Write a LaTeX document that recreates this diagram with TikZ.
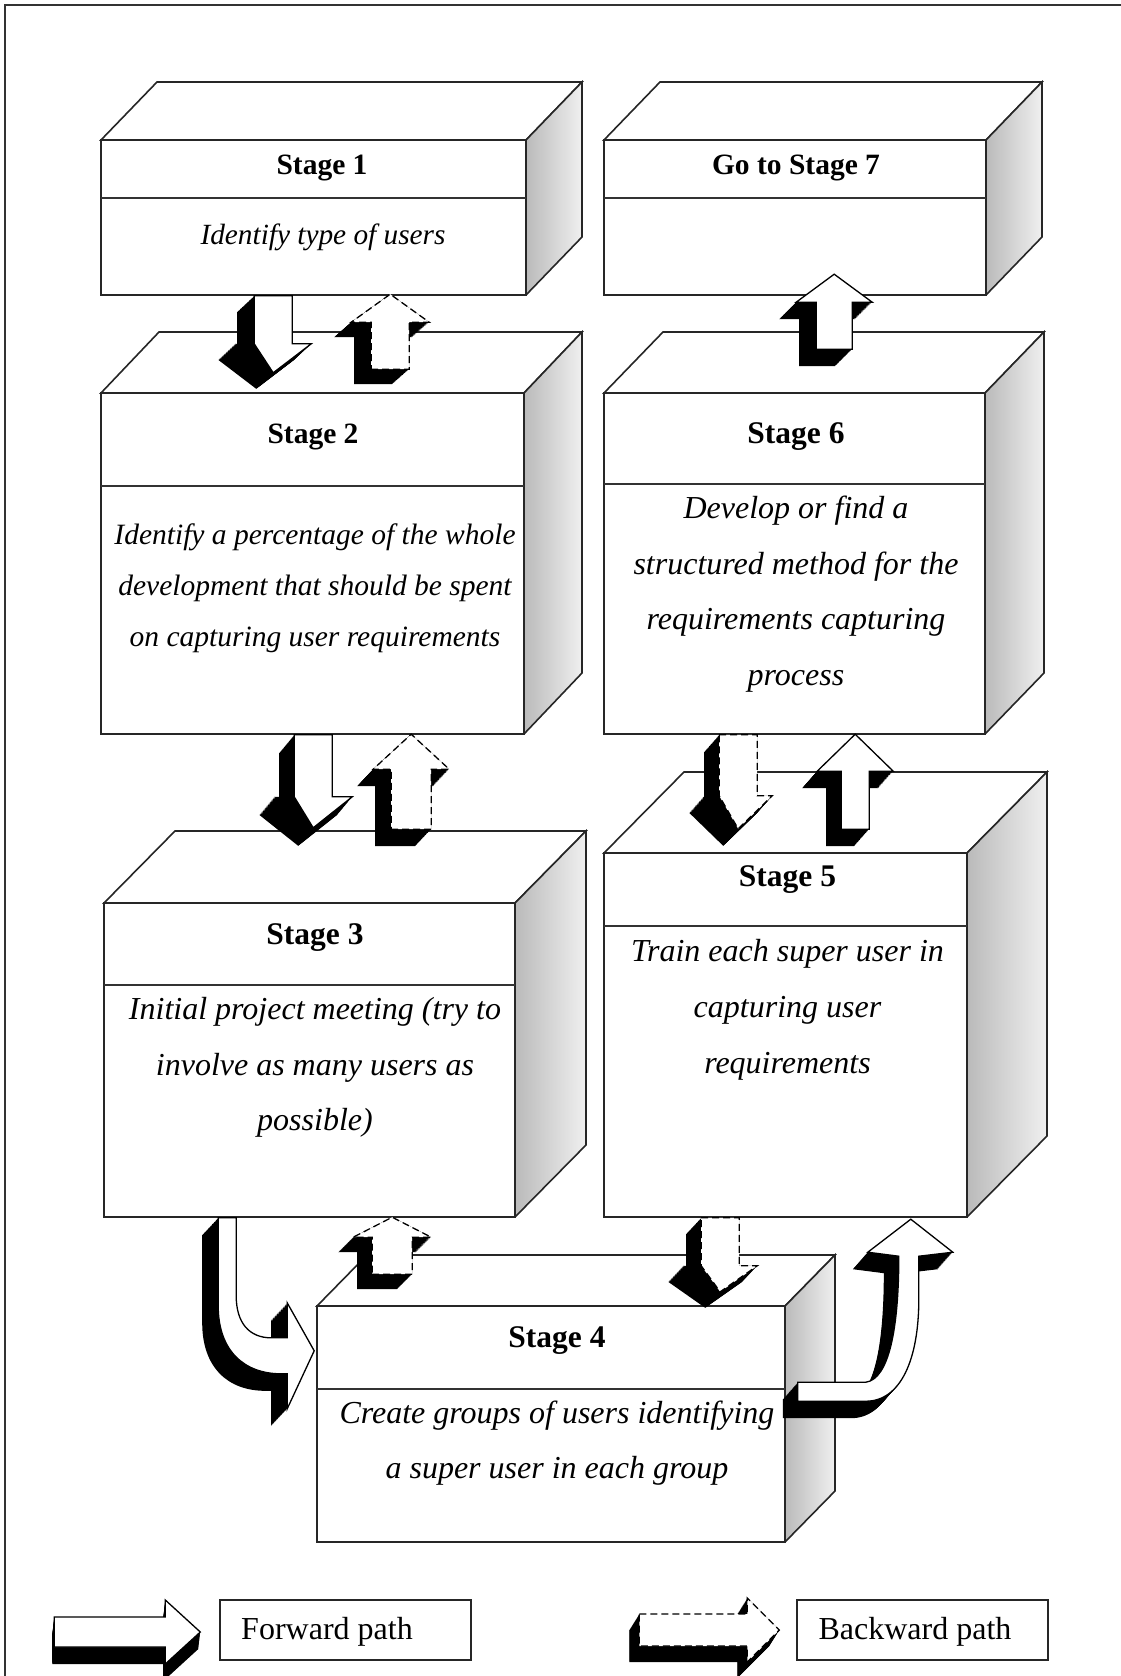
\documentclass[tikz,border=0pt]{standalone}
\usepackage{fontspec}
\setmainfont{Liberation Serif}
\usetikzlibrary{calc,fit}

% black side of a block arrow: the outline swept along (#1,#2)
\newcommand\extrude[3]{%
  \foreach \k in {0,1,...,24}{%
    \fill[black, shift={(\k*#1/24,\k*#2/24)}] #3;%
  }%
}

% a stage drawn as a box: name, x1, y1, x2, y2, depth x, depth y, divider y
\newcommand\stagebox[8]{%
  \filldraw[boxline, fill=white] (#2,#3) -- ++(#6,#7) -- ++(#4-#2,0) -- (#4,#3) -- cycle;
  \shade[sidefill] (#4,#3) -- ++(#6,#7) -- ++(0,#5-#3) -- (#4,#5) -- cycle;
  \draw[boxline] (#4,#3) -- ++(#6,#7) -- ++(0,#5-#3) -- (#4,#5);
  \coordinate (#1-a) at (#2,#3);
  \coordinate (#1-b) at (#4,#5);
  \node[boxline, fill=white, fit=(#1-a)(#1-b), inner sep=0pt] (#1) {};
  \draw[divline] (#2,#8) -- (#4,#8);
}

\tikzset{
  boxline/.style={draw=black!85, line width=1.6pt, line join=miter},
  divline/.style={draw=black!80, line width=1.3pt},
  frameline/.style={draw=black!80, line width=1.6pt},
  sidefill/.style={left color=black!27, right color=black!6},
  stagetitle/.style={font=\fontsize{#1}{#1}\selectfont\bfseries, inner sep=0pt},
  stagetitle/.default=31.5,
  stagebody/.style 2 args={font=\fontsize{#1}{#2}\selectfont\itshape, align=center, inner sep=0pt},
  fwd/.style={draw=black, line width=1.3pt, fill=white, line join=miter},
  bwd/.style={draw=black, line width=1.3pt, fill=white, line join=miter, dash pattern=on 7pt off 4pt},
  legendbox/.style={draw=black!85, line width=1.4pt, fill=white, inner sep=0pt},
  legendtext/.style={font=\fontsize{32}{32}\selectfont, inner sep=0pt},
  % shaft half width, shaft length, head half width, head length, sweep x, sweep y
  pics/downarrow/.style n args={7}{code={
    \extrude{#6}{#7}{(-#2,0) -- (#2,0) -- (#2,#3) -- (#4,#3) -- (0,#3+#5) -- (-#4,#3) -- (-#2,#3) -- cycle}
    \path[#1] (-#2,0) -- (#2,0) -- (#2,#3) -- (#4,#3) -- (0,#3+#5) -- (-#2,#3) -- cycle;
  }},
  pics/uparrow/.style n args={7}{code={
    \extrude{#6}{#7}{(-#2,0) -- (#2,0) -- (#2,-#3) -- (#4,-#3) -- (0,-#3-#5) -- (-#4,-#3) -- (-#2,-#3) -- cycle}
    \path[#1] (-#2,0) -- (#2,0) -- (#2,-#3) -- (#4,-#3) -- (0,-#3-#5) -- (-#4,-#3) -- (-#2,-#3) -- cycle;
  }},
  pics/rightarrow/.style n args={7}{code={
    \extrude{#6}{#7}{(0,-#2) -- (#3,-#2) -- (#3,-#4) -- (#3+#5,0) -- (#3,#4) -- (#3,#2) -- (0,#2) -- cycle}
    \path[#1] (0,-#2) -- (#3,-#2) -- (#3,-#4) -- (#3+#5,0) -- (#3,#4) -- (#3,#2) -- (0,#2) -- cycle;
  }},
}

\begin{document}
\begin{tikzpicture}[x=1pt,y=-1pt]
\useasboundingbox (0,0) rectangle (1121,1676);
\fill[white] (0,0) rectangle (1121,1676);
\draw[frameline] (5,1676) -- (5,5) -- (1121,5);

% stages
\stagebox{s1}{101}{140}{526}{295}{56}{-58}{198}
\stagebox{s7}{604}{140}{986}{295}{56}{-58}{198}
\stagebox{s2}{101}{393}{524}{734}{58}{-61}{486}
\stagebox{s6}{604}{393}{985}{734}{59}{-61}{484}
\stagebox{s3}{104}{903}{515}{1217}{71}{-72}{985}
\stagebox{s5}{604}{853}{967}{1217}{80}{-81}{926}
\stagebox{s4}{317}{1306}{785}{1542}{50}{-51}{1389}

% stage texts
\node[stagetitle=29.5] (t1) at (322,168) {Stage 1};
\node[stagebody={29.3}{30}] (b1) at (323,237) {Identify type of users};
\node[stagetitle=29.5] (t7) at (796,168) {Go to Stage 7};
\node[stagetitle=29.5] (t2) at (313,437) {Stage 2};
\node[stagebody={29.5}{51}] (b2) at (315,588) {Identify a percentage of the whole\\development that should be spent\\on capturing user requirements};
\node[stagetitle] (t6) at (796,437) {Stage 6};
\node[stagebody={32}{55.5}] (b6) at (796,594) {Develop or find a\\structured method for the\\requirements capturing\\process};
\node[stagetitle] (t3) at (315,938) {Stage 3};
\node[stagebody={32}{55.5}] (b3) at (315,1067.5) {Initial project meeting (try to\\involve as many users as\\possible)};
\node[stagetitle] (t5) at (787.5,879.5) {Stage 5};
\node[stagebody={32}{56}] (b5) at (787.5,1009.5) {Train each super user in\\capturing user\\requirements};
\node[stagetitle] (t4) at (557,1341) {Stage 4};
\node[stagebody={32}{55}] (b4) at (557,1443.5) {Create groups of users identifying\\a super user in each group};

% forward (solid) and backward (dashed) block arrows between stages
\pic at ($(s1.south west)+(173,0)$) {downarrow={fwd}{19}{48}{38}{29}{-17}{16}};
\pic at ($(s2.north west)+(290,-23)$) {uparrow={bwd}{19}{47}{39}{28}{-17}{15}};
\pic at ($(s2.south west)+(213,0)$) {downarrow={fwd}{19}{62}{39}{31}{-15}{18}};
\pic at ($(s3.north west)+(308,-73)$) {uparrow={bwd}{20}{60}{38}{35}{-16}{17}};
\pic at ($(s6.south west)+(135,0)$) {downarrow={bwd}{19}{61}{34}{33}{-15}{17}};
\pic at ($(s5.north west)+(252,-23)$) {uparrow={fwd}{14}{58}{38}{37}{-15}{17}};
\pic at ($(s6.north west)+(231,-43)$) {uparrow={fwd}{18}{47}{38}{28}{-17}{17}};
\pic at ($(s4.north west)+(76,-31)$) {uparrow={bwd}{20}{37}{39}{20}{-15}{15}};
\pic at ($(s5.south west)+(117,0)$) {downarrow={bwd}{19}{48}{37}{26}{-15}{16}};

% curved forward arrow from stage 3 into stage 4
\begin{scope}[shift={(s3.south west)}]
  \extrude{-16}{17}{(115,0) -- (115,88) .. controls (115,133) and (141,156) .. (178,156) -- (184,156) -- (184,191) -- (211,133) -- (184,85) -- (184,120) -- (168,120) .. controls (146,120) and (133,105) .. (133,78) -- (133,0) -- cycle}
  \path[fwd] (115,0) -- (115,88) .. controls (115,133) and (141,156) .. (178,156) -- (184,156) -- (184,191) -- (211,133) -- (184,85) -- (184,120) -- (168,120) .. controls (146,120) and (133,105) .. (133,78) -- (133,0) -- cycle;
\end{scope}

% curved forward arrow from stage 4 up to stage 5
\begin{scope}[shift={(s4.north east)}]
  \extrude{-15}{17}{(12,77) -- (80,77) .. controls (103,74) and (113,24) .. (113,-49) -- (82,-53) -- (125,-86) -- (167,-53) -- (133,-49) -- (133,-6) .. controls (133,54) and (115,96) .. (80,96) -- (12,96) -- cycle}
  \path[fwd] (12,77) -- (80,77) .. controls (103,74) and (113,24) .. (113,-49) -- (82,-53) -- (125,-86) -- (167,-53) -- (133,-49) -- (133,-6) .. controls (133,54) and (115,96) .. (80,96) -- (12,96) -- cycle;
\end{scope}

% legend
\node[legendbox, minimum width=251pt, minimum height=60pt] (fbox) at (345.5,1630) {};
\node[legendtext] (ftext) at (327,1632) {Forward path};
\node[legendbox, minimum width=251pt, minimum height=60pt] (bbox) at (922.5,1630) {};
\node[legendtext] (btext) at (915,1632) {Backward path};
\pic at ($(fbox.west)+(-165,2)$) {rightarrow={fwd}{15}{111}{32}{35}{-2}{17}};
\pic at ($(bbox.west)+(-157,0)$) {rightarrow={bwd}{16}{108}{32}{32}{-10}{16}};
\end{tikzpicture}
\end{document}
